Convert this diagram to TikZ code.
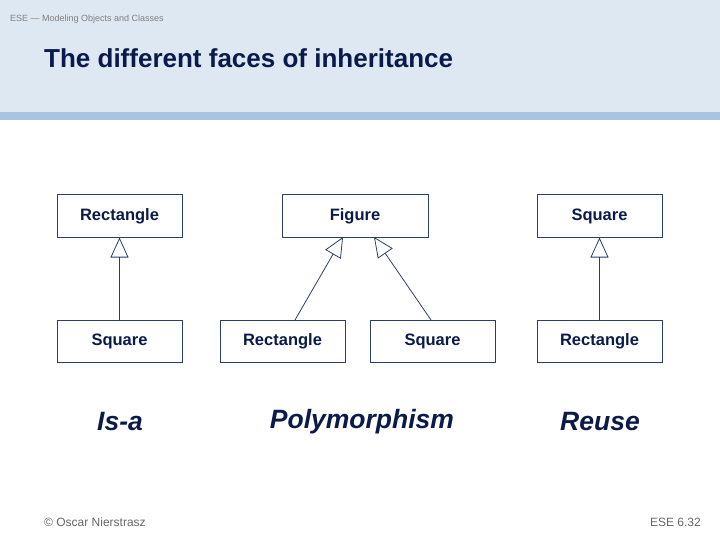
\documentclass[tikz,border=0pt]{standalone}
\usepackage{fontspec}
\setmainfont{Liberation Sans}
\usetikzlibrary{arrows.meta}
\definecolor{hdr}{HTML}{DEE8F3}
\definecolor{stripe}{HTML}{A9C3E0}
\definecolor{navy}{HTML}{0A1A4A}
\definecolor{boxline}{HTML}{2A3F66}
\begin{document}
\begin{tikzpicture}[x=1pt,y=-1pt,
  cls/.style={draw=boxline,line width=1pt,minimum width=125pt,minimum height=42pt,inner sep=0pt,font=\bfseries\fontsize{16.5}{19}\selectfont,text=navy},
  inh/.style={draw=boxline,line width=0.8pt,-{Triangle[open,length=20pt,width=18pt]}},
  lbl/.style={font=\bfseries\itshape\fontsize{26.5}{30}\selectfont,text=navy}]
\useasboundingbox (0,0) rectangle (720,540);
\fill[hdr] (0,0) rectangle (720,112);
\fill[stripe] (0,112) rectangle (720,120);
\node[anchor=west,inner sep=0pt,text=gray,font=\fontsize{9}{10}\selectfont] (hd) at (10,19) {ESE — Modeling Objects and Classes};
\node[anchor=west,inner sep=0pt,text=navy,font=\bfseries\fontsize{26}{30}\selectfont] (title) at (44,58) {The different faces of inheritance};
\node[cls] (r1) at (119.5,216) {Rectangle};
\node[cls,minimum width=146pt] (fig) at (355,216) {Figure};
\node[cls] (s3) at (599.5,216) {Square};
\node[cls] (s1) at (119.5,341) {Square};
\node[cls] (r2) at (282.5,341) {Rectangle};
\node[cls] (s2) at (432.5,341) {Square};
\node[cls] (r3) at (599.5,341) {Rectangle};
\draw[inh] (s1.north) -- (r1.south);
\draw[inh] (s3.south |- r3.north) -- (s3.south);
\coordinate (fa) at (343,237);
\coordinate (fb) at (374,237);
\draw[inh] (295,320) -- (fa);
\draw[inh] (431,320) -- (fb);
\node[lbl] (l1) at (120,422) {Is-a};
\node[lbl] (l2) at (362,422) {Polymorphism};
\node[lbl] (l3) at (600,422) {Reuse};
\node[anchor=west,inner sep=0pt,text=gray!80!black,font=\fontsize{12}{14}\selectfont] (f1) at (44,522) {© Oscar Nierstrasz};
\node[anchor=east,inner sep=0pt,text=gray!80!black,font=\fontsize{12}{14}\selectfont] (f2) at (701,522) {ESE 6.32};
\end{tikzpicture}
\end{document}
